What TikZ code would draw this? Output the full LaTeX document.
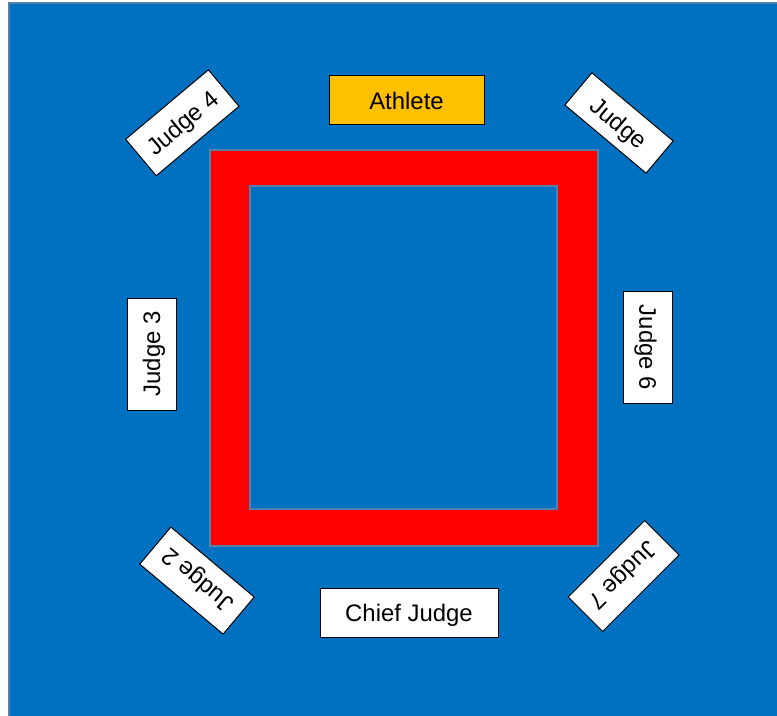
\documentclass[tikz,border=0pt]{standalone}
\usepackage{fontspec}
\setmainfont{Liberation Sans}
\usepackage{tikz}
\usetikzlibrary{positioning}
\definecolor{matblue}{HTML}{0070C0}
\definecolor{matedge}{HTML}{5480AE}
\definecolor{ringred}{HTML}{FF0000}
\definecolor{athgold}{HTML}{FFC000}

\begin{document}
\begin{tikzpicture}[font=\fontsize{17}{20}\selectfont,
  seat/.style={draw=black,line width=0.7pt,fill=white,align=center,inner sep=2pt,text depth=0pt,minimum height=1.225cm},
  ath/.style={seat,fill=athgold},
  matline/.style={draw=matedge,line width=1.8pt}]
\useasboundingbox (0,0) rectangle (19.425,17.9);
\clip (0,0) rectangle (19.425,17.9);
% mat
\draw[matline,line width=1.2pt,fill=matblue] (0.22,-0.2) rectangle (19.7,17.83);
\draw[matline,fill=ringred] (5.25,4.25) rectangle (14.95,14.15);
\draw[matline,fill=matblue] (6.25,5.175) rectangle (13.925,13.25);
% athlete and chief judge
\node[ath,minimum width=3.875cm] (athlete) at (10.1625,15.3875) {Athlete};
\node[seat,minimum width=4.45cm] (chief) at (10.225,2.5875) {Chief Judge};
% judges round the ring
\node[seat,minimum width=2.8cm,rotate=90] (j3) at (3.7875,9.05) {Judge 3};
\node[seat,minimum width=2.8cm,rotate=-90] (j6) at (16.2,9.2125) {Judge 6};
\node[seat,minimum width=2.7cm,minimum height=1.19cm,rotate=40] (j4) at (4.5575,14.83) {Judge 4};
\node[seat,minimum width=2.65cm,minimum height=1.05cm,rotate=-40] (j5) at (15.475,14.825) {Judge};
\node[seat,minimum width=2.72cm,minimum height=1.21cm,rotate=140] (j2) at (4.925,3.385) {Judge 2};
\node[seat,minimum width=2.7cm,minimum height=1.215cm,rotate=-135] (j7) at (15.59,3.5) {Judge 7};
\end{tikzpicture}
\end{document}
